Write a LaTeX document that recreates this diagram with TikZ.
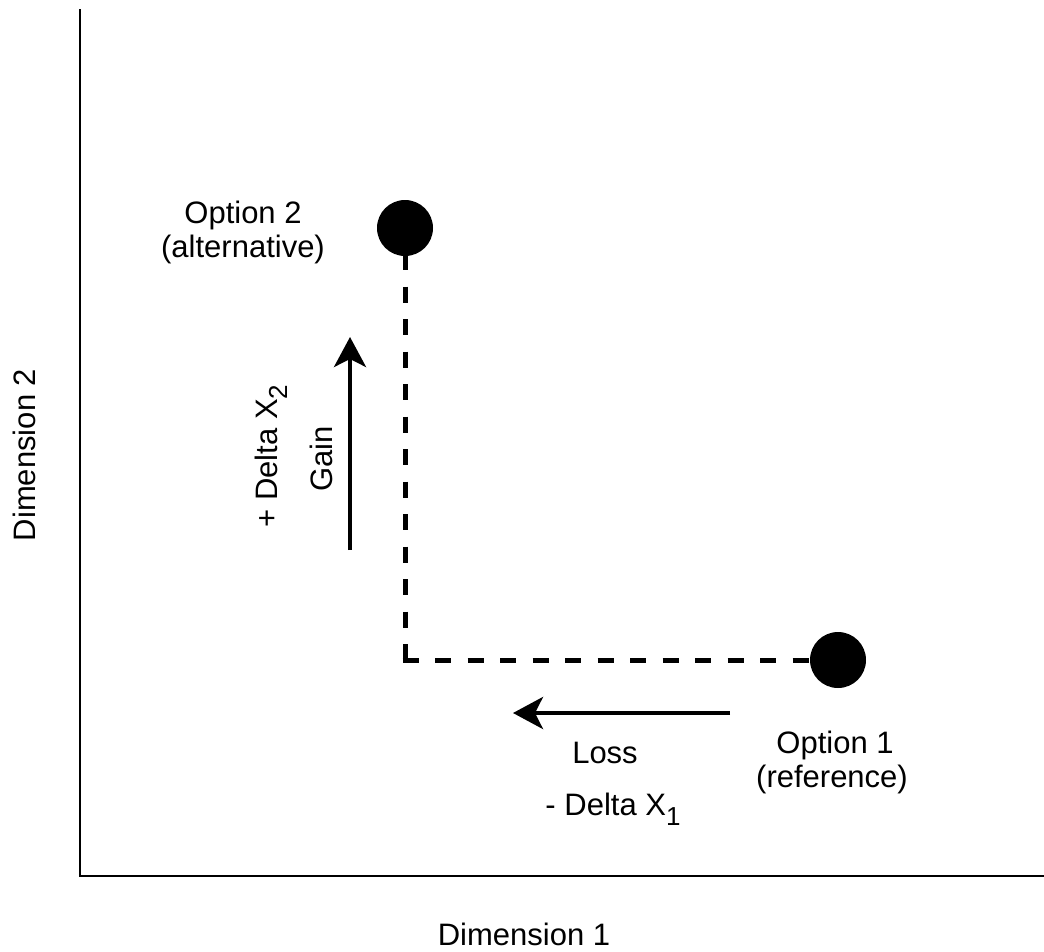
\documentclass[tikz,border=0pt]{standalone}
\usepackage{fontspec}
\setmainfont{Liberation Sans}
\usetikzlibrary{arrows.meta}
\newcommand{\mysub}[1]{\raisebox{-0.33em}{\fontsize{26}{26}\selectfont #1}}
\begin{document}
\begin{tikzpicture}[x=1pt,y=1pt,
  txt/.style={font=\fontsize{31}{34}\selectfont, inner sep=0pt, anchor=base},
  dot/.style={circle, fill=black, minimum size=56pt, inner sep=0pt},
  axisline/.style={line width=2.6pt, line cap=butt},
  dashline/.style={line width=5pt, dash pattern=on 16pt off 16.5pt},
  bigarrow/.style={line width=4pt, -{Stealth[length=30pt, width=32pt, inset=8pt]}}
]
\useasboundingbox (0,0) rectangle (1044,-951);
% axes
\coordinate (ytop) at (80,-9);
\coordinate (xend) at (1044,-876);
\draw[axisline] (ytop) |- (xend);
% points
\node[dot] (opt2) at (405,-228) {};
\node[dot] (opt1) at (838,-660) {};
\coordinate (corner) at (opt2 |- opt1);
\draw[dashline, dash phase=2pt] (opt2) -- (corner);
\draw[dashline, shorten <=-2.5pt] (corner) -- (opt1);
% arrows
\coordinate (gainS) at (350,-550);
\coordinate (gainE) at (350,-337);
\draw[bigarrow] (gainS) -- (gainE);
\coordinate (lossS) at (730,-713);
\coordinate (lossE) at (513,-713);
\draw[bigarrow] (lossS) -- (lossE);
% labels
\node[txt] (o2a) at (243,-223) {Option 2};
\node[txt] (o2b) at (243,-257) {(alternative)};
\node[txt] (o1a) at (835,-753) {Option 1};
\node[txt] (o1b) at (832,-787) {(reference)};
\node[txt] (loss) at (605,-763) {Loss};
\node[txt] (dx1) at (613,-815) {- Delta X\mysub{1}};
\node[txt, rotate=90] (gain) at (332,-459) {Gain};
\node[txt, rotate=90] (dx2) at (277,-456) {+ Delta X\mysub{2}};
\node[txt] (dim1) at (524,-945) {Dimension 1};
\node[txt, rotate=90] (dim2) at (35,-455) {Dimension 2};
\end{tikzpicture}
\end{document}
